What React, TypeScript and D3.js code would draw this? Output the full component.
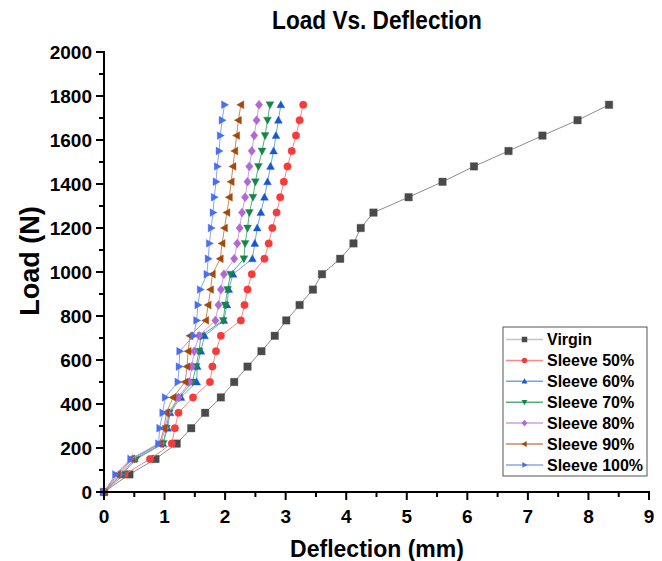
import React from "react";
import * as d3 from "d3";

const loads = [0, 80, 150, 220, 290, 360, 430, 500, 570, 640, 710, 780, 850, 920, 990, 1060, 1130, 1200, 1270, 1340, 1410, 1480, 1550, 1620, 1690, 1760];

const virgin = [0, 0.42, 0.85, 1.20, 1.44, 1.67, 1.93, 2.15, 2.37, 2.60, 2.82, 3.01, 3.23, 3.45, 3.60, 3.90, 4.12, 4.24, 4.45, 5.03, 5.59, 6.11, 6.68, 7.24, 7.82, 8.34];
const sleeve50 = [0, 0.34, 0.76, 1.12, 1.17, 1.23, 1.47, 1.75, 1.79, 1.85, 1.93, 2.26, 2.32, 2.37, 2.44, 2.65, 2.72, 2.78, 2.85, 2.91, 2.97, 3.03, 3.10, 3.17, 3.23, 3.29];
const sleeve60 = [0, 0.28, 0.50, 0.97, 1.05, 1.09, 1.27, 1.53, 1.54, 1.60, 1.66, 1.98, 2.03, 2.06, 2.13, 2.45, 2.49, 2.53, 2.59, 2.65, 2.70, 2.75, 2.80, 2.84, 2.88, 2.92];
const sleeve70 = [0, 0.30, 0.53, 0.98, 1.03, 1.08, 1.24, 1.46, 1.52, 1.57, 1.60, 1.97, 2.00, 2.04, 2.09, 2.31, 2.33, 2.37, 2.40, 2.46, 2.50, 2.55, 2.61, 2.66, 2.70, 2.74];
const sleeve80 = [0, 0.25, 0.47, 0.94, 1.01, 1.06, 1.23, 1.41, 1.45, 1.49, 1.57, 1.84, 1.89, 1.93, 1.98, 2.15, 2.20, 2.24, 2.28, 2.33, 2.37, 2.40, 2.44, 2.48, 2.52, 2.56];
const sleeve90 = [0, 0.22, 0.46, 0.92, 0.99, 1.03, 1.14, 1.34, 1.37, 1.39, 1.42, 1.68, 1.72, 1.76, 1.79, 1.92, 1.95, 1.99, 2.03, 2.07, 2.10, 2.13, 2.16, 2.19, 2.22, 2.26];
const sleeve100 = [0, 0.19, 0.44, 0.90, 0.92, 0.97, 1.01, 1.22, 1.24, 1.25, 1.48, 1.53, 1.55, 1.59, 1.70, 1.72, 1.74, 1.77, 1.80, 1.82, 1.85, 1.87, 1.90, 1.92, 1.95, 1.99];

const seriesNames = ["Virgin", "Sleeve 50%", "Sleeve 60%", "Sleeve 70%", "Sleeve 80%", "Sleeve 90%", "Sleeve 100%"];
const seriesValues = [virgin, sleeve50, sleeve60, sleeve70, sleeve80, sleeve90, sleeve100];
const markerColors = ["#4a4a4a", "#f53b3b", "#1756d4", "#13874a", "#b266d8", "#a3490d", "#4a6ef0"];
const lineColors = ["#8c8c8c", "#f58a8a", "#6ea6e6", "#5aab7e", "#caa0e2", "#c98a5e", "#8ea3f2"];
const markerShapes = ["square", "circle", "triUp", "triDown", "diamond", "triLeft", "triRight"];

const xTicks = [0, 1, 2, 3, 4, 5, 6, 7, 8, 9];
const yTicks = [0, 200, 400, 600, 800, 1000, 1200, 1400, 1600, 1800, 2000];

const W = 662, H = 561;
const left = 104, right = 649, top = 52, bottom = 492;

function markerPath(shape: string, s: number): string {
  const h = s / 2;
  switch (shape) {
    case "square": return `M${-h},${-h}H${h}V${h}H${-h}Z`;
    case "circle": return d3.symbol(d3.symbolCircle, Math.PI * h * h)() || "";
    case "triUp": return `M0,${-h * 1.1}L${h * 1.05},${h * 0.8}L${-h * 1.05},${h * 0.8}Z`;
    case "triDown": return `M0,${h * 1.1}L${h * 1.05},${-h * 0.8}L${-h * 1.05},${-h * 0.8}Z`;
    case "triLeft": return `M${-h * 1.1},0L${h * 0.8},${-h * 1.05}L${h * 0.8},${h * 1.05}Z`;
    case "triRight": return `M${h * 1.1},0L${-h * 0.8},${-h * 1.05}L${-h * 0.8},${h * 1.05}Z`;
    case "diamond": return `M0,${-h * 1.2}L${h * 1.0},0L0,${h * 1.2}L${-h * 1.0},0Z`;
  }
  return "";
}

export default function App() {
  const x = d3.scaleLinear().domain([0, 9]).range([left, right]);
  const y = d3.scaleLinear().domain([0, 2000]).range([bottom, top]);
  const line = d3.line<number>().x((d) => x(d)).y((_, i) => y(loads[i]));
  const font = "'Liberation Sans', Arial, sans-serif";
  const xMinor = d3.range(0.5, 9, 1);
  const yMinor = d3.range(100, 2000, 200);
  const legX = 503, legY = 327, legW = 144, legH = 149;
  return (
    <svg width={W} height={H} style={{ position: "absolute", left: 0, top: 0, background: "#fff" }} fontFamily={font}>
      <text transform="translate(377,29) scale(0.87,1)" textAnchor="middle" fontSize={26} fontWeight="bold">Load Vs. Deflection</text>
      {seriesValues.map((vals, si) => (
        <g key={si}>
          <path d={line(vals) || ""} fill="none" stroke={lineColors[si]} strokeWidth={1} />
          {vals.map((v, i) => (
            <path key={i} d={markerPath(markerShapes[si], 7.5)} transform={`translate(${x(v)},${y(loads[i])})`} fill={markerColors[si]} stroke={markerColors[si]} strokeOpacity={0.35} strokeWidth={1} />
          ))}
        </g>
      ))}
      {/* axes */}
      <line x1={left} x2={left} y1={top - 1} y2={bottom + 1} stroke="#000" strokeWidth={2} />
      <line x1={left - 1} x2={right + 1} y1={bottom} y2={bottom} stroke="#000" strokeWidth={2} />
      {yTicks.map((t) => (
        <g key={t}>
          <line x1={left - 8} x2={left} y1={y(t)} y2={y(t)} stroke="#000" strokeWidth={2} />
          <text x={left - 12} y={y(t)} dy="0.36em" textAnchor="end" fontSize={19} fontWeight="bold">{t}</text>
        </g>
      ))}
      {yMinor.map((t) => (
        <line key={t} x1={left - 5} x2={left} y1={y(t)} y2={y(t)} stroke="#000" strokeWidth={2} />
      ))}
      {xTicks.map((t) => (
        <g key={t}>
          <line x1={x(t)} x2={x(t)} y1={bottom} y2={bottom + 8} stroke="#000" strokeWidth={2} />
          <text x={x(t)} y={523} textAnchor="middle" fontSize={19} fontWeight="bold">{t}</text>
        </g>
      ))}
      {xMinor.map((t) => (
        <line key={t} x1={x(t)} x2={x(t)} y1={bottom} y2={bottom + 5} stroke="#000" strokeWidth={2} />
      ))}
      <text x={377} y={557} textAnchor="middle" fontSize={23} fontWeight="bold">Deflection (mm)</text>
      <text transform={`translate(39,261) rotate(-90)`} textAnchor="middle" fontSize={27} fontWeight="bold">Load (N)</text>
      {/* legend */}
      <rect x={legX} y={legY} width={legW} height={legH} fill="#fff" stroke="#555" strokeWidth={1} />
      {seriesNames.map((n, si) => {
        const yy = legY + 12.5 + si * 20.9;
        return (
          <g key={n}>
            <line x1={506} x2={543} y1={yy} y2={yy} stroke={lineColors[si]} strokeWidth={1.5} opacity={si === 0 ? 0.5 : 1} />
            <path d={markerPath(markerShapes[si], 5.5)} transform={`translate(524.5,${yy})`} fill={markerColors[si]} />
            <text x={547} y={yy} dy="0.36em" fontSize={16} fontWeight="bold">{n}</text>
          </g>
        );
      })}
    </svg>
  );
}
